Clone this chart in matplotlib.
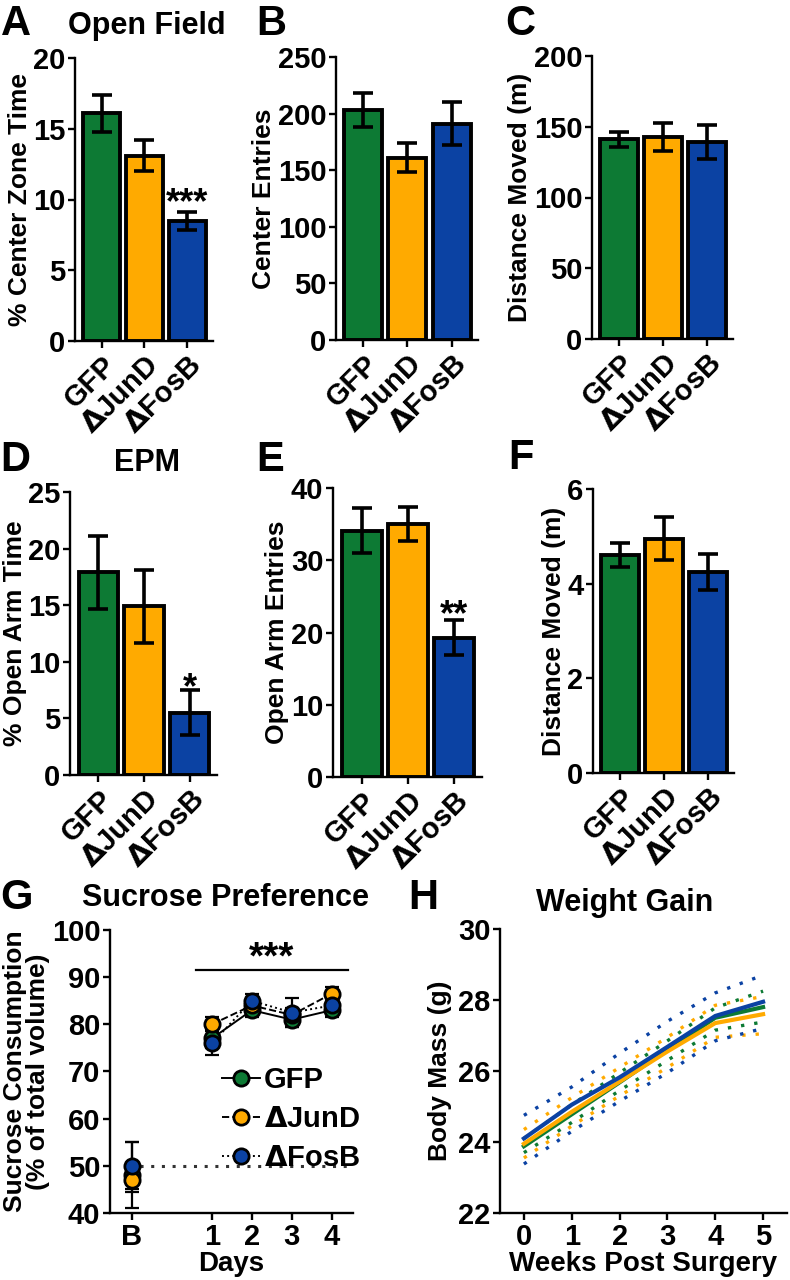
import numpy as np
import matplotlib
matplotlib.use("Agg")
from matplotlib import pyplot as plt

plt.rcParams['font.family'] = ['Liberation Sans', 'DejaVu Sans']
plt.rcParams['font.weight'] = 'bold'
plt.rcParams['axes.labelweight'] = 'bold'

groups = ["GFP", r"$\Delta$JunD", r"$\Delta$FosB"]
colors = ["#0d7a34", "#ffaa00", "#0b42a3"]

# bar panels: mean, sem
center_time = [16.1, 13.1, 8.5]
center_time_err = [1.3, 1.1, 0.65]
center_entries = [203, 161, 191]
center_entries_err = [15, 13, 19]
of_distance = [141, 143, 139]
of_distance_err = [5.5, 10, 12]
open_arm_time = [17.9, 14.9, 5.5]
open_arm_time_err = [3.2, 3.2, 2.0]
open_arm_entries = [34.1, 35.0, 19.3]
open_arm_entries_err = [3.1, 2.4, 2.4]
epm_distance = [4.6, 4.95, 4.25]
epm_distance_err = [0.25, 0.45, 0.38]

# sucrose preference
sp_base = [48, 47, 50]
sp_base_err = [7, 2.5, 5]
sp_days = [1, 2, 3, 4]
sp_gfp = [77, 83, 81, 83]
sp_jund = [80, 84, 82, 86.5]
sp_fosb = [76, 85, 82.5, 84]
sp_gfp_err = [2, 1.5, 1.5, 1.5]
sp_jund_err = [1.5, 1.5, 1.5, 1.5]
sp_fosb_err = [2.5, 1.5, 3, 1.5]

# weight gain
weeks = [0, 1, 2, 3, 4, 5]
wg_gfp = [23.88, 24.78, 25.68, 26.6, 27.5, 27.8]
wg_jund = [23.95, 24.85, 25.7, 26.55, 27.35, 27.6]
wg_fosb = [24.1, 25.05, 25.82, 26.68, 27.55, 27.95]
wg_gfp_hi = [24.1, 25.05, 25.95, 26.85, 27.78, 28.25]
wg_gfp_lo = [23.7, 24.55, 25.45, 26.3, 27.15, 27.38]
wg_jund_hi = [24.35, 25.25, 26.1, 26.95, 27.85, 28.1]
wg_jund_lo = [23.55, 24.45, 25.3, 26.1, 26.95, 27.05]
wg_fosb_hi = [24.75, 25.55, 26.5, 27.4, 28.2, 28.7]
wg_fosb_lo = [23.38, 24.3, 25.15, 25.95, 26.85, 27.2]

W, H = 790, 1280
fig = plt.figure(figsize=(W / 100, H / 100), dpi=100)


def box(l, r, t, b):
    return [l / W, 1 - b / H, (r - l) / W, (b - t) / H]


def style(ax):
    for s in ["top", "right"]:
        ax.spines[s].set_visible(False)
    for s in ["left", "bottom"]:
        ax.spines[s].set_linewidth(1.7)
    ax.tick_params(direction="out", length=5, width=1.7, labelsize=21, pad=2)


def bars(ax, vals, errs, ymax, step, ylabel, star=None, star_y=None):
    x = np.arange(3)
    ax.bar(x, vals, width=0.86, color=colors, edgecolor="black", linewidth=2.8, zorder=2)
    ax.errorbar(x, vals, yerr=errs, fmt="none", ecolor="black", elinewidth=2.6,
                capsize=7.5, capthick=2.6, zorder=3)
    ax.set_xlim(-0.62, 2.6)
    ax.set_ylim(0, ymax)
    ax.set_yticks(np.arange(0, ymax + step / 2, step))
    ax.set_xticks(x)
    ax.set_xticklabels(groups, rotation=45, ha="right", rotation_mode="anchor", fontsize=20)
    ax.set_ylabel(ylabel, fontsize=19, labelpad=1)
    style(ax)
    if star:
        ax.text(2, star_y, star, ha="center", va="center", fontsize=26)


axA = fig.add_axes(box(75, 213, 58, 341))
bars(axA, center_time, center_time_err, 20, 5, "% Center Zone Time", "***", 9.7)
axB = fig.add_axes(box(336, 478, 57, 340))
bars(axB, center_entries, center_entries_err, 250, 50, "Center Entries")
axC = fig.add_axes(box(592, 733, 56, 339))
bars(axC, of_distance, of_distance_err, 200, 50, "Distance Moved (m)")
axD = fig.add_axes(box(70, 217, 492, 775))
bars(axD, open_arm_time, open_arm_time_err, 25, 5, "% Open Arm Time", "*", 7.6)
axE = fig.add_axes(box(333, 482, 488, 777))
bars(axE, open_arm_entries, open_arm_entries_err, 40, 10, "Open Arm Entries", "**", 22.3)
axF = fig.add_axes(box(593, 734, 489, 773))
bars(axF, epm_distance, epm_distance_err, 6, 2, "Distance Moved (m)")

# G: sucrose preference
axG = fig.add_axes(box(110, 353, 930, 1213))
series = [(groups[0], sp_gfp, sp_gfp_err, "-"),
          (groups[1], sp_jund, sp_jund_err, "--"),
          (groups[2], sp_fosb, sp_fosb_err, ":")]
axG.plot([-0.8, 4.5], [50, 50], color="#333333", linestyle=(0, (1, 2.5)), linewidth=2.2, zorder=1)
handles = []
for (name, vals, errs, ls), c, b, be in zip(series, colors, sp_base, sp_base_err):
    axG.errorbar(sp_days, vals, yerr=errs, fmt="none", ecolor="black", elinewidth=1.6,
                 capsize=5, capthick=1.6, zorder=2)
    axG.errorbar([-1], [b], yerr=[be], fmt="none", ecolor="black",
                 elinewidth=1.6, capsize=5, capthick=1.6, zorder=2)
    h, = axG.plot(sp_days, vals, color="black", linestyle=ls, linewidth=1.4, marker="o",
                  markersize=11, markerfacecolor=c, markeredgecolor="black",
                  markeredgewidth=2, zorder=3, label=name)
    axG.plot([-1], [b], linestyle="none", marker="o", markersize=11,
             markerfacecolor=c, markeredgecolor="black", markeredgewidth=2, zorder=3)
    handles.append(h)
axG.plot([0.6, 4.4], [91.5, 91.5], color="black", linewidth=1.6)
axG.text(2.5, 94, "***", ha="center", va="center", fontsize=28)
axG.set_xlim(-1.55, 4.53)
axG.set_ylim(40, 100)
axG.set_yticks(np.arange(40, 101, 10))
axG.set_xticks([-1, 1, 2, 3, 4])
axG.set_xticklabels(["B", "1", "2", "3", "4"])
axG.set_xlabel("Days", fontsize=20, labelpad=0)
axG.set_ylabel("Sucrose Consumption\n(% of total volume)", fontsize=19, labelpad=1, linespacing=0.95)
style(axG)
leg = axG.legend(handles=handles, loc="upper left", bbox_to_anchor=(0.4, 0.57), frameon=False,
                 fontsize=21, handlelength=1.3, handletextpad=0.15, labelspacing=0.38,
                 borderpad=0)

# H: weight gain
axH = fig.add_axes(box(500, 787, 929, 1213))
for c, hi, lo in zip(colors, [wg_gfp_hi, wg_jund_hi, wg_fosb_hi],
                     [wg_gfp_lo, wg_jund_lo, wg_fosb_lo]):
    axH.plot(weeks, hi, color=c, linestyle=(0, (1, 3)), linewidth=2.4)
    axH.plot(weeks, lo, color=c, linestyle=(0, (1, 3)), linewidth=2.4)
for c, m in zip(colors, [wg_gfp, wg_jund, wg_fosb]):
    axH.plot(weeks, m, color=c, linewidth=3)
axH.set_xlim(-0.5, 5.5)
axH.set_ylim(22, 30)
axH.set_yticks([22, 24, 26, 28, 30])
axH.set_xticks(weeks)
axH.set_xlabel("Weeks Post Surgery", fontsize=20, labelpad=0)
axH.set_ylabel("Body Mass (g)", fontsize=19, labelpad=4)
style(axH)


# panel letters and titles
def ftext(x, y, s, size, ha="left"):
    fig.text(x / W, 1 - y / H, s, fontsize=size, ha=ha, va="center", fontweight="bold")


ftext(1, 24, "A", 30)
ftext(256, 24, "B", 30)
ftext(505, 24, "C", 30)
ftext(0, 460, "D", 30)
ftext(256, 460, "E", 30)
ftext(508, 458, "F", 30)
ftext(0, 898, "G", 30)
ftext(408, 898, "H", 30)
ftext(147, 26, "Open Field", 22, "center")
ftext(147, 463, "EPM", 22, "center")
ftext(225, 898, "Sucrose Preference", 22, "center")
ftext(625, 903, "Weight Gain", 22, "center")

fig.savefig("out.png", dpi=100)
